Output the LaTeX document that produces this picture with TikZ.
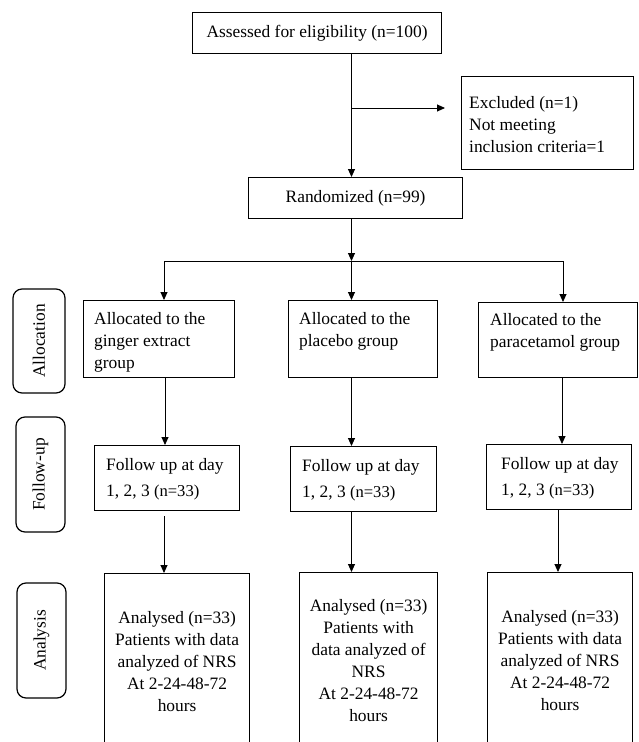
\documentclass[tikz,border=0pt]{standalone}
\usepackage{fontspec}
\setmainfont{Liberation Serif}
\usetikzlibrary{arrows.meta}
\tikzset{
  box/.style={draw, line width=1.2pt, inner sep=0pt, anchor=north west},
  cbox/.style={draw, line width=1.2pt, inner sep=0pt, anchor=north west, align=center},
  rbox/.style={draw, rounded corners=9pt, line width=1.2pt, inner sep=0pt, rotate=90},
  txt/.style={inner sep=0pt, align=left, anchor=north west},
  arr/.style={-{Triangle[length=8pt,width=7pt]}, line width=0.9pt},
  ln/.style={line width=0.9pt},
}
\newcommand{\nsmall}{\fontsize{16.6pt}{22pt}\selectfont}
\begin{document}
\begin{tikzpicture}[x=1pt,y=-1pt,font=\fontsize{17.4pt}{22pt}\selectfont]
\useasboundingbox (0,0) rectangle (638,742);
\fill[white] (0,0) rectangle (638,742);
\clip (0,0) rectangle (638,742);

% top boxes
\node[box, minimum width=249pt, minimum height=41pt] (assess) at (192,12) {Assessed for eligibility (n=100)};
\node[box, minimum width=172pt, minimum height=93pt] (excl) at (461,76) {};
\node[txt] (exclt) at (469,96) {Excluded (n=1)\\Not meeting\\inclusion criteria=1};
\node[box, minimum width=214pt, minimum height=41pt] (rand) at (248,177) {Randomized (n=99)};

% allocation boxes
\node[box, minimum width=151pt, minimum height=77pt] (a1) at (83,300) {};
\node[txt] (a1t) at (94,312) {Allocated to the\\ginger extract\\group};
\node[box, minimum width=149pt, minimum height=77pt] (a2) at (288,300) {};
\node[txt] (a2t) at (299,312) {Allocated to the\\placebo group};
\node[box, minimum width=159pt, minimum height=75pt] (a3) at (478,302) {};
\node[txt] (a3t) at (490,313) {Allocated to the\\paracetamol group};

% follow-up boxes
\node[box, minimum width=145pt, minimum height=65pt] (f1) at (94,445) {};
\node[txt] (f1t) at (106,458) {Follow up at day\\[4pt]1, 2, 3 {\nsmall(n=33)}};
\node[box, minimum width=146pt, minimum height=65pt] (f2) at (290,446) {};
\node[txt] (f2t) at (302,459) {Follow up at day\\[4pt]1, 2, 3 {\nsmall(n=33)}};
\node[box, minimum width=145pt, minimum height=65pt] (f3) at (486,444) {};
\node[txt] (f3t) at (501,457) {Follow up at day\\[4pt]1, 2, 3 {\nsmall(n=33)}};

% analysis boxes
\node[cbox, minimum width=145pt, minimum height=176pt] (n1) at (104,573) {Analysed (n=33)\\Patients with data\\analyzed of NRS\\At 2-24-48-72\\hours};
\node[cbox, minimum width=138pt, minimum height=176pt] (n2) at (299,572) {Analysed (n=33)\\Patients with\\data analyzed of\\NRS\\At 2-24-48-72\\hours};
\node[cbox, minimum width=145pt, minimum height=176pt] (n3) at (487,572) {Analysed (n=33)\\Patients with data\\analyzed of NRS\\At 2-24-48-72\\hours};

% stage labels
\node[rbox, minimum width=104pt, minimum height=52pt] (sAlloc) at (39,341) {Allocation};
\node[rbox, minimum width=115pt, minimum height=49pt] (sFollow) at (40.5,474.5) {Follow-up};
\node[rbox, minimum width=115pt, minimum height=49pt] (sAnal) at (41.5,640.5) {Analysis};

% connectors
\coordinate (trunk) at (351.5,0);
\coordinate (exA) at (351.5,108);
\coordinate (exB) at (445,108);
\coordinate (brL) at (164,261);
\coordinate (brM) at (351.5,261);
\coordinate (brR) at (563,261);
\coordinate (cL) at (165,0);
\coordinate (cL2) at (164,0);
\coordinate (cR) at (562,0);
\coordinate (cR2) at (558,0);

\draw[arr] (trunk |- assess.south) -- (trunk |- rand.north);
\draw[arr] (exA) -- (exB);
\draw[arr] (trunk |- rand.south) -- (brM);
\draw[ln] (brL) -- (brR);
\draw[arr] (brL) -- (brL |- a1.north);
\draw[arr] (brM) -- (brM |- a2.north);
\draw[arr] (brR) -- (brR |- a3.north);

\draw[arr] (cL |- a1.south) -- (cL |- f1.north);
\draw[arr] (trunk |- a2.south) -- (trunk |- f2.north);
\draw[arr] (cR |- a3.south) -- (cR |- f3.north);

\draw[arr, shorten <=5pt] (cL2 |- f1.south) -- (cL2 |- n1.north);
\draw[arr] (trunk |- f2.south) -- (trunk |- n2.north);
\draw[arr] (cR2 |- f3.south) -- (cR2 |- n3.north);
\end{tikzpicture}
\end{document}
